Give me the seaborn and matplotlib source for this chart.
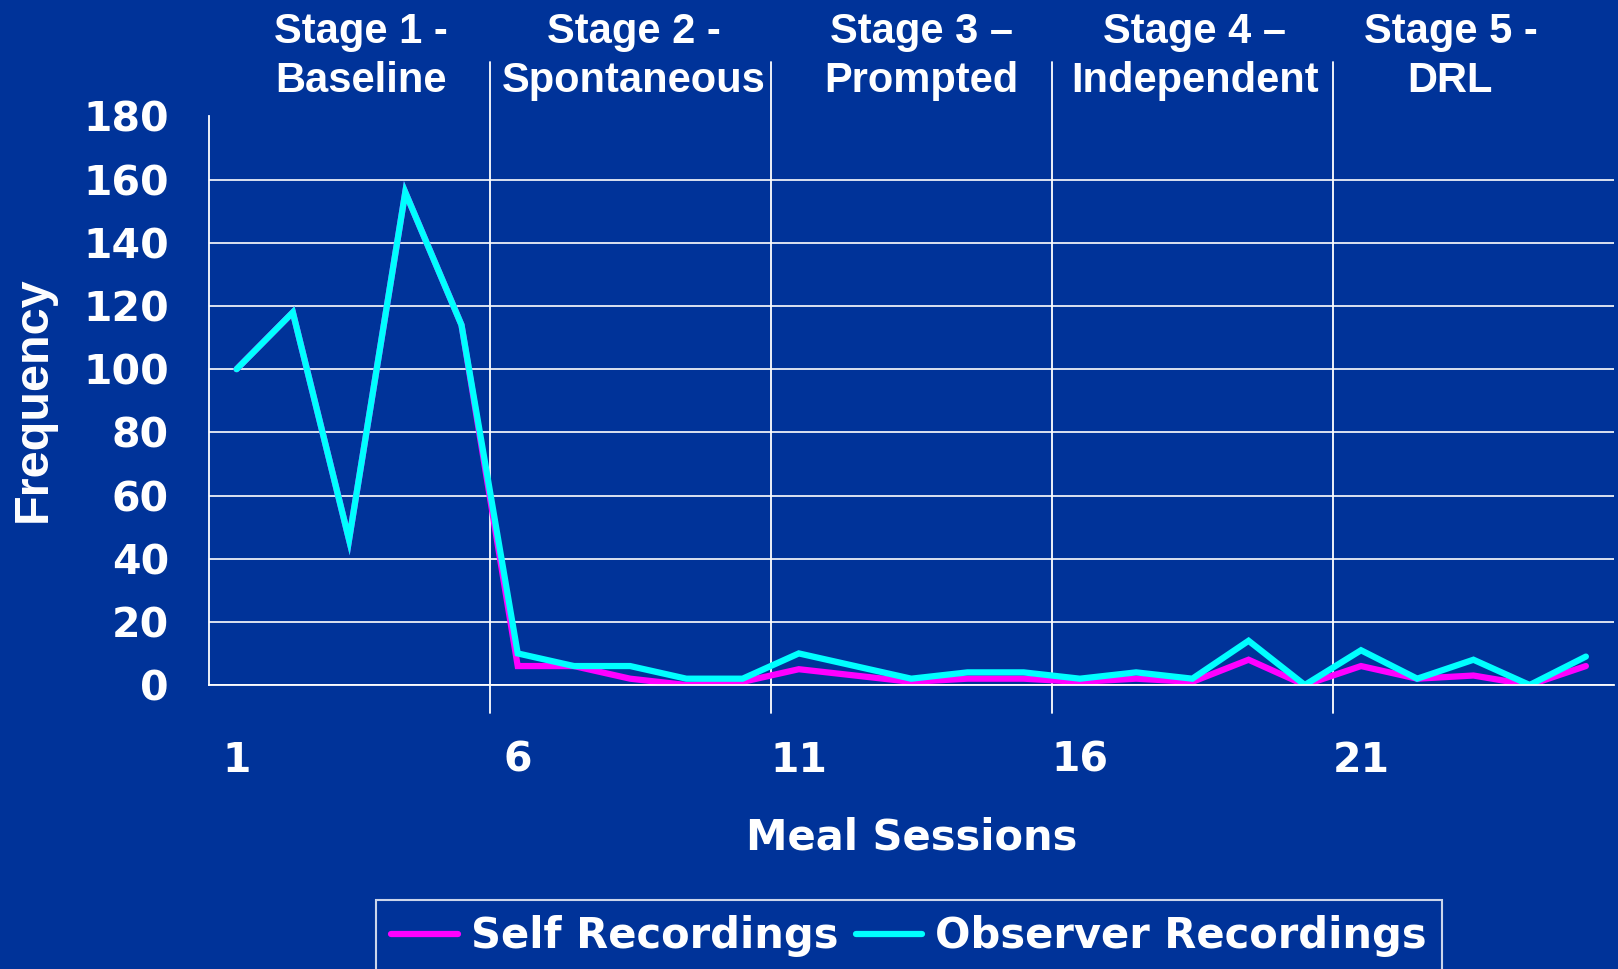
import numpy as np
import pandas as pd
import matplotlib
matplotlib.use("Agg")
import matplotlib.pyplot as plt
import matplotlib.transforms as mtransforms
from matplotlib.font_manager import FontProperties
import seaborn as sns

# ---------------- data ----------------
sessions = list(range(1, 26))
self_recordings = [100, 118, 46, 156, 114,
                   6, 6, 2, 0, 1,
                   5, 3, 1, 2, 2,
                   1, 2, 1, 8, 0,
                   6, 2, 3, 0, 6]
observer_recordings = [100, 118, 46, 156, 114,
                       10, 6, 6, 2, 2,
                       10, 6, 2, 4, 4,
                       2, 4, 2, 14, 0,
                       11, 2, 8, 0, 9]
series_names = ["Self Recordings", "Observer Recordings"]
series_colors = ["#FF00FF", "#00FFFF"]
stage_line1 = ["Stage 1 -", "Stage 2 -", "Stage 3 \u2013", "Stage 4 \u2013", "Stage 5 -"]
stage_line2 = ["Baseline", "Spontaneous", "Prompted", "Independent", "DRL"]
stage_sizes = [5, 5, 5, 5, 5]
x_tick_sessions = [1, 6, 11, 16, 21]
x_tick_labels = ["1", "6", "11", "16", "21"]
y_ticks = [0, 20, 40, 60, 80, 100, 120, 140, 160, 180]

# ---------------- styling ----------------
sns.set_style("white")
plt.rcParams["font.family"] = ["DejaVu Sans"]
BG = "#003399"
W, H = 1618, 969

df = pd.DataFrame({
    "Session": sessions * 2,
    "Frequency": self_recordings + observer_recordings,
    "Series": [series_names[0]] * len(sessions) + [series_names[1]] * len(sessions),
})

fig = plt.figure(figsize=(W / 100, H / 100), dpi=100, facecolor=BG)
ax_left, ax_right, ax_top, ax_bot = 208.5, 1614, 116.5, 685
ax = fig.add_axes([ax_left / W, 1 - ax_bot / H, (ax_right - ax_left) / W, (ax_bot - ax_top) / H])
ax.set_facecolor("none")

sns.lineplot(data=df, x="Session", y="Frequency", hue="Series", hue_order=series_names,
             palette=series_colors, linewidth=4.5, ax=ax, legend=True,
             solid_capstyle="round", solid_joinstyle="miter")

ax.set_xlim(0.5, len(sessions) + 0.5)
ax.set_ylim(0, 180)

# grid / spines
ax.set_yticks(y_ticks)
ax.yaxis.grid(True, color="white", linewidth=1.2)
ax.xaxis.grid(False)
for s in ["top", "right"]:
    ax.spines[s].set_visible(False)
for s in ["left", "bottom"]:
    ax.spines[s].set_color("white")
    ax.spines[s].set_linewidth(1.3)

tick_font = FontProperties(family="DejaVu Sans", weight="bold", size=29.5)
ax.set_yticklabels([str(v) for v in y_ticks], fontproperties=tick_font, color="white")
ax.tick_params(axis="y", direction="out", length=11.5, width=1.2, color="white", pad=17)

bounds = np.cumsum([0] + stage_sizes) + 0.5
ax.set_xticks(bounds)
ax.set_xticklabels([])
ax.tick_params(axis="x", which="major", direction="out", length=11, width=1.3, color="white")
ax.set_xticks(x_tick_sessions, minor=True)
ax.set_xticklabels(x_tick_labels, minor=True, fontproperties=tick_font, color="white")
ax.tick_params(axis="x", which="minor", length=0, pad=40)

ax.set_xlabel("Meal Sessions", fontproperties=FontProperties(family="DejaVu Sans", weight="bold", size=30),
              color="white", labelpad=26)
ax.set_ylabel("")
fig.text(33 / W, 1 - 399 / H, "Frequency", rotation=90, ha="center", va="center", color="white",
         fontproperties=FontProperties(family="Liberation Sans", weight="bold", size=35))

# stage divider lines
xt = ax.get_xaxis_transform()
for b in bounds[1:-1]:
    ax.plot([b, b], [-0.049, 1.096], transform=xt, color="white", linewidth=1.3, clip_on=False, zorder=1)

# stage labels
stage_label_x = [3.21, 8.07, 13.18, 18.04, 22.59]
stage_font = FontProperties(family="Liberation Sans", weight="bold", size=30)
tr = mtransforms.blended_transform_factory(ax.transData, fig.transFigure)
for x, l1, l2 in zip(stage_label_x, stage_line1, stage_line2):
    ax.text(x, 1 - 43 / H, l1, transform=tr, ha="center", va="baseline", color="white",
            fontproperties=stage_font)
    ax.text(x, 1 - 92 / H, l2, transform=tr, ha="center", va="baseline", color="white",
            fontproperties=stage_font)

# legend
handles, labels = ax.get_legend_handles_labels()
ax.get_legend().remove()
leg = fig.legend(handles, labels, loc="upper left", bbox_to_anchor=(376 / W, 1 - 900 / H), ncol=2,
                 frameon=True, fancybox=False, edgecolor="white", facecolor="none",
                 prop=FontProperties(family="DejaVu Sans", weight="bold", size=30), labelcolor="white",
                 handlelength=1.6, handletextpad=0.3, columnspacing=0.42, borderpad=0.37, borderaxespad=0)
leg.get_frame().set_linewidth(1.5)

fig.savefig("out.png", dpi=100, facecolor=BG)
